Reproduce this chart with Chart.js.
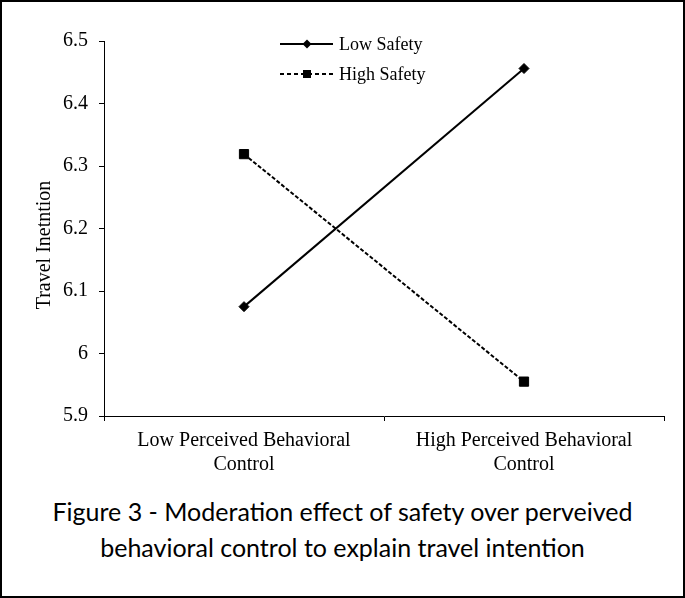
<!DOCTYPE html>
<html>
<head>
<meta charset="utf-8">
<script src="https://cdn.jsdelivr.net/npm/chart.js@4"></script>
<style>
  html, body { margin: 0; padding: 0; background: #fff; }
  #frame {
    position: absolute; left: 0; top: 0;
    width: 685px; height: 598px;
    box-sizing: border-box;
    border: 2px solid #000;
  }
  #chart-canvas { position: absolute; left: 0; top: 0; }
  #caption {
    position: absolute; left: 0; top: 493px; width: 685px;
    text-align: center;
    font-family: Lato, 'Open Sans', sans-serif;
    font-size: 25px; line-height: 36px; color: #000;
  }
</style>
</head>
<body>
<div id="frame"></div>
<canvas id="chart-canvas" width="685" height="490"></canvas>
<div id="caption">Figure 3 - Moderation effect of safety over perveived<br>behavioral control to explain travel intention</div>
<script>
const categories = [
  ['Low Perceived Behavioral', 'Control'],
  ['High Perceived Behavioral', 'Control']
];
const seriesNames = ['Low Safety', 'High Safety'];
const lowSafety = [6.075, 6.456];
const highSafety = [6.319, 5.955];
const yTickLabels = ['5.9', '6', '6.1', '6.2', '6.3', '6.4', '6.5'];
const yTitle = 'Travel Inetntion';

const serif = "'Liberation Serif', 'Times New Roman', serif";

// legend drawn by hand: line - marker - line, stacked
// also the y title, which sits a bit below the middle of the axis in the original
const stackedLegend = {
  id: 'stackedLegend',
  afterDraw(chart) {
    const ctx = chart.ctx;
    const rows = [44, 74];
    chart.data.datasets.forEach((ds, i) => {
      const y = rows[i];
      ctx.save();
      ctx.strokeStyle = '#000';
      ctx.lineWidth = 1.8;
      ctx.setLineDash(ds.borderDash && ds.borderDash.length ? [4, 3] : []);
      ctx.beginPath();
      ctx.moveTo(280, y);
      ctx.lineTo(333, y);
      ctx.stroke();
      ctx.setLineDash([]);
      ctx.fillStyle = '#000';
      ctx.beginPath();
      if (ds.pointStyle === 'rectRot') {
        ctx.moveTo(307, y - 4.5);
        ctx.lineTo(311.5, y);
        ctx.lineTo(307, y + 4.5);
        ctx.lineTo(302.5, y);
        ctx.closePath();
      } else {
        ctx.rect(303, y - 4, 8, 8);
      }
      ctx.fill();
      ctx.font = '18px ' + serif;
      ctx.textBaseline = 'middle';
      ctx.textAlign = 'left';
      ctx.fillText(ds.label, 339, y + 1);
      ctx.restore();
    });

    ctx.save();
    ctx.translate(45, 245);
    ctx.rotate(-Math.PI / 2);
    ctx.font = '20px ' + serif;
    ctx.fillStyle = '#000';
    ctx.textAlign = 'center';
    ctx.textBaseline = 'middle';
    ctx.fillText(yTitle, 0, 0);
    ctx.restore();
  }
};

const ctx = document.getElementById('chart-canvas').getContext('2d');
new Chart(ctx, {
  type: 'line',
  data: {
    labels: categories,
    datasets: [
      {
        label: seriesNames[0],
        data: lowSafety,
        borderColor: '#000',
        backgroundColor: '#000',
        borderWidth: 2,
        pointStyle: 'rectRot',
        pointRadius: 5,
        pointBorderWidth: 1,
        tension: 0
      },
      {
        label: seriesNames[1],
        data: highSafety,
        borderColor: '#000',
        backgroundColor: '#000',
        borderWidth: 2,
        borderDash: [4, 2],
        pointStyle: 'rect',
        pointRadius: 6.5,
        pointBorderWidth: 1,
        tension: 0
      }
    ]
  },
  options: {
    responsive: false,
    animation: false,
    layout: { padding: { left: 30, top: 41, right: 21, bottom: 0 } },
    plugins: {
      legend: { display: false },
      tooltip: { enabled: false }
    },
    scales: {
      x: {
        offset: true,
        grid: { offset: true, drawOnChartArea: false, drawTicks: true, tickLength: 5, color: '#000' },
        border: { display: true, color: '#000', width: 1 },
        ticks: {
          color: '#000', maxRotation: 0, autoSkip: false, padding: 8,
          font: { family: serif, size: 20, lineHeight: 1.2 }
        },
        afterFit: (scale) => { scale.height = 490 - 416; }
      },
      y: {
        min: 5.9,
        max: 6.5,
        grid: { drawOnChartArea: false, drawTicks: true, tickLength: 5, color: '#000' },
        border: { display: true, color: '#000', width: 1 },
        ticks: {
          stepSize: 0.1, color: '#000', padding: 11,
          font: { family: serif, size: 20 },
          callback: (value, index) => yTickLabels[index]
        },
        afterFit: (scale) => { scale.width = 104 - 30; }
      }
    }
  },
  plugins: [stackedLegend]
});
</script>
</body>
</html>
